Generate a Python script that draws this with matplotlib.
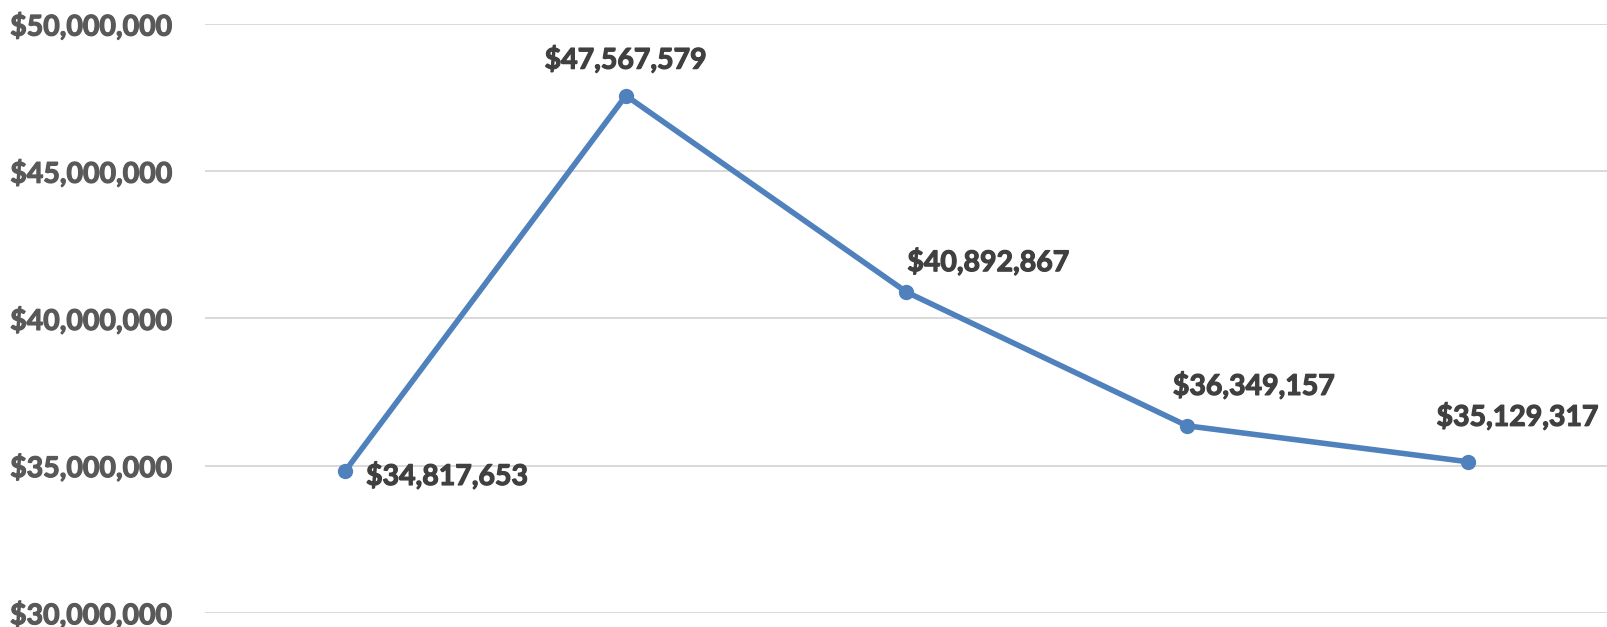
import matplotlib
matplotlib.use("Agg")
import matplotlib.pyplot as plt
import matplotlib.patheffects as pe
from matplotlib.ticker import FuncFormatter

categories = ["1", "2", "3", "4", "5"]
values = [34817653, 47567579, 40892867, 36349157, 35129317]
yticks = [30000000, 35000000, 40000000, 45000000, 50000000]
# label offsets (pixels) relative to each point
label_dx = [102, 0, 82, 67, 50]
label_dy = [-5, 36, 30, 40, 45]

plt.rcParams['font.family'] = ['Lato', 'DejaVu Sans']

fig = plt.figure(figsize=(16.08, 6.27), dpi=100)
ax = fig.add_axes([205/1608, 14.3/627, 1 - 205/1608, (612.7 - 24)/627])

x = list(range(len(categories)))
ax.plot(x, values, color="#4F81BD", linewidth=4.0, marker="o", markersize=10,
        solid_capstyle="round", zorder=3, clip_on=False)

for xi, v, dx, dy in zip(x, values, label_dx, label_dy):
    ax.annotate(f"${v:,.0f}", (xi, v), xytext=(dx, dy), textcoords="offset pixels",
                ha="center", va="center", fontsize=20.5, fontweight="bold",
                color="#404040", zorder=4,
                path_effects=[pe.withStroke(linewidth=0.9, foreground="#404040")])

ax.set_xlim(-0.5, 4.5)
ax.set_ylim(yticks[0], yticks[-1])
ax.set_yticks(yticks)
ax.yaxis.set_major_formatter(FuncFormatter(lambda v, p: f"${v:,.0f}"))
ax.set_xticks([])
ax.tick_params(axis="y", length=0, pad=23, labelsize=20.5, labelcolor="#595959")
for lbl in ax.get_yticklabels():
    lbl.set_fontweight("bold")
    lbl.set_path_effects([pe.withStroke(linewidth=0.9, foreground="#595959")])
ax.grid(axis="y", color="#D9D9D9", linewidth=1.4, zorder=0)
for s in ax.spines.values():
    s.set_visible(False)

fig.savefig("out.png", dpi=100)
